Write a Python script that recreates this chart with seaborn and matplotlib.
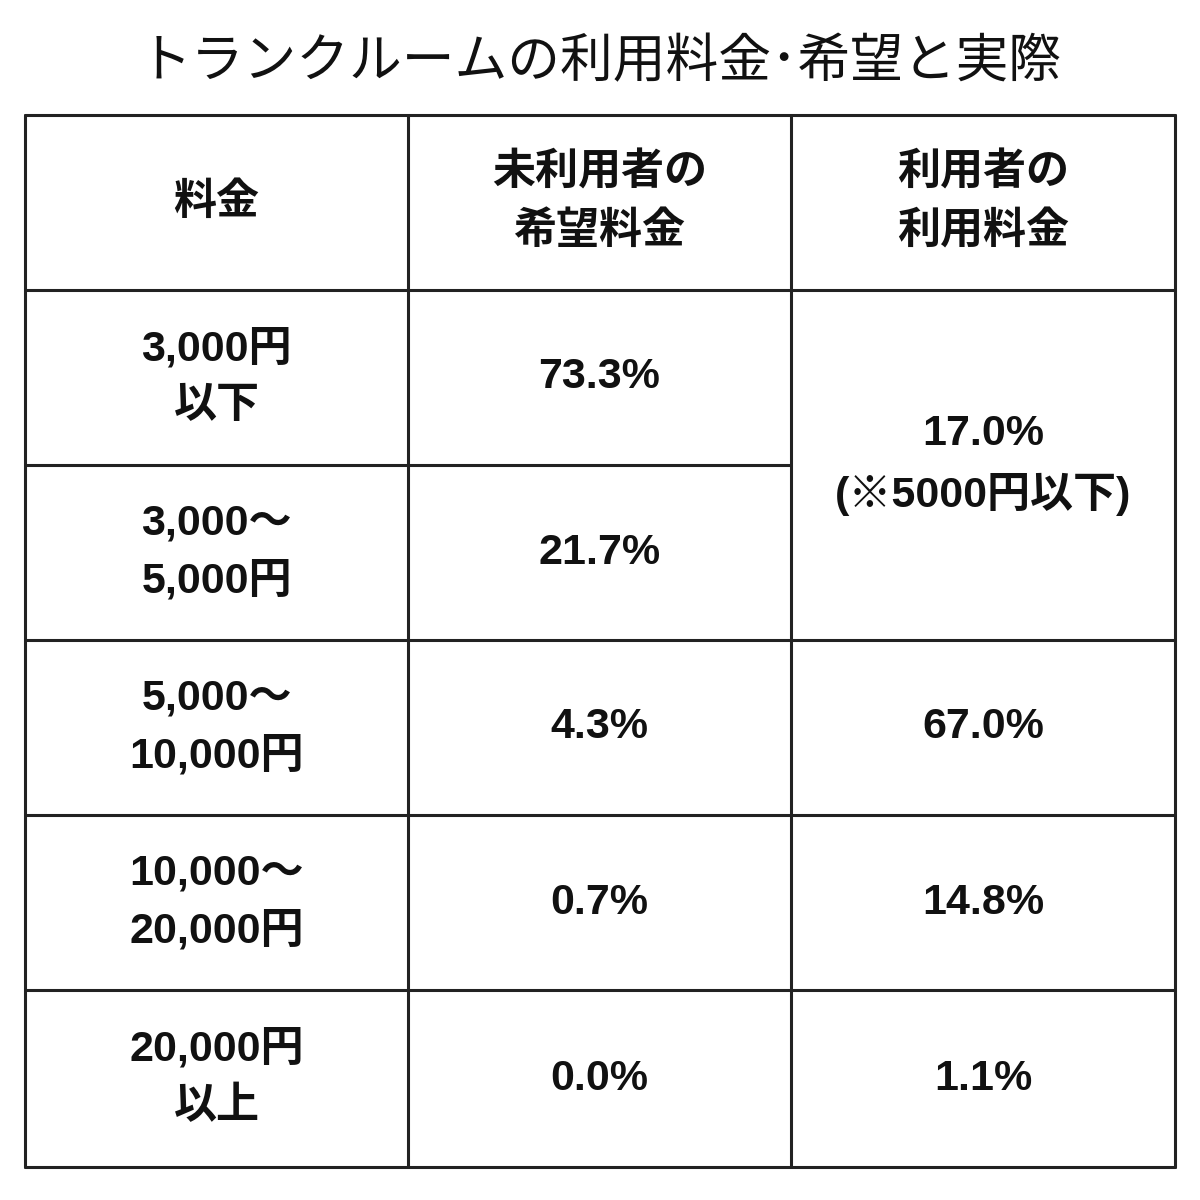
import matplotlib
matplotlib.use("Agg")
import matplotlib.pyplot as plt
import seaborn as sns

sns.set_theme(style="white")
plt.rcParams['font.family'] = ['Noto Sans CJK JP', 'DejaVu Sans']

title = "トランクルームの利用料金･希望と実際"
headers = ["料金", "未利用者の\n希望料金", "利用者の\n利用料金"]
price_ranges = ["3,000円\n以下", "3,000～\n5,000円", "5,000～\n10,000円", "10,000～\n20,000円", "20,000円\n以上"]
wish_rates = ["73.3%", "21.7%", "4.3%", "0.7%", "0.0%"]
actual_rates = ["17.0%\n(※5000円以下)", None, "67.0%", "14.8%", "1.1%"]

fig = plt.figure(figsize=(12, 12), dpi=100)
ax = fig.add_axes([0, 0, 1, 1])
ax.set_xlim(0, 1200)
ax.set_ylim(1200, 0)
ax.axis("off")

xs = [25, 408, 791, 1175]
ys = [115, 290, 465, 640, 815, 990, 1167]
lw = 2.2
kw = dict(ha="center", va="center", fontsize=31, fontweight="bold", color="#111111",
          linespacing=1.55, family=['Liberation Sans', 'Noto Sans CJK JP'])

ax.text(600, 62, title, ha="center", va="center", fontsize=38, color="#111111")

for x in xs:
    ax.plot([x, x], [ys[0], ys[-1]], color="#222222", lw=lw)
for i, y in enumerate(ys):
    if i == 2:
        ax.plot([xs[0], xs[2]], [y, y], color="#222222", lw=lw)
    else:
        ax.plot([xs[0], xs[3]], [y, y], color="#222222", lw=lw)

cx = [(xs[i] + xs[i + 1]) / 2 for i in range(3)]
for j, h in enumerate(headers):
    ax.text(cx[j], (ys[0] + ys[1]) / 2, h, **kw)

for i in range(5):
    cy = (ys[i + 1] + ys[i + 2]) / 2
    ax.text(cx[0], cy, price_ranges[i], **kw)
    ax.text(cx[1], cy, wish_rates[i], **kw)
    if i == 0:
        ax.text(cx[2], (ys[1] + ys[3]) / 2, actual_rates[0], **kw)
    elif actual_rates[i] is not None:
        ax.text(cx[2], cy, actual_rates[i], **kw)

fig.savefig("out.png", dpi=100, facecolor="white")
